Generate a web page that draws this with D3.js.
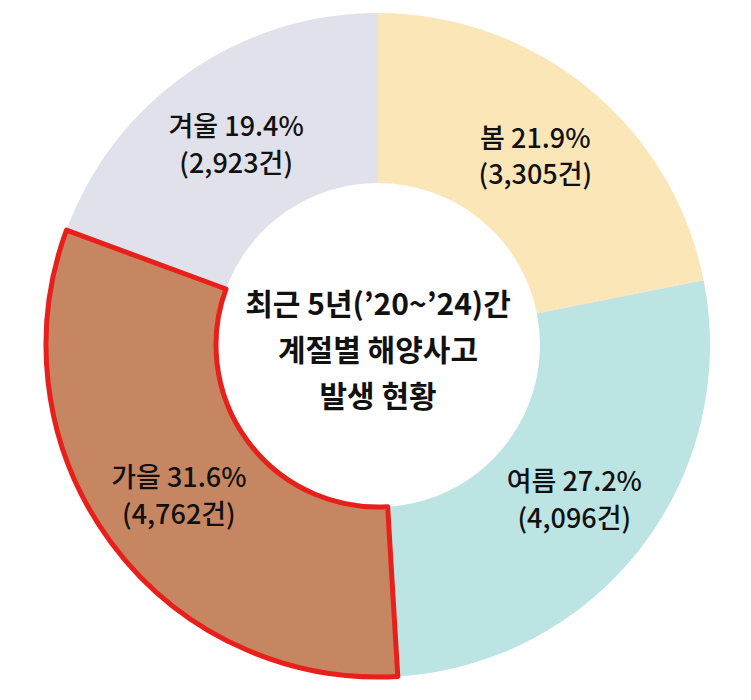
<!DOCTYPE html>
<html><head><meta charset="utf-8">
<script src="https://cdn.jsdelivr.net/npm/d3@7"></script>
<style>body{margin:0;background:#fff}text{font-family:"Noto Sans CJK KR","Noto Sans",sans-serif}</style>
</head><body>
<svg id="c" width="751" height="700"></svg>
<script>
// season share of marine accidents, clockwise from 12 o'clock
const seasons = ['봄', '여름', '가을', '겨울'];
const shares = [21.9, 27.2, 31.6, 19.4];
const counts = ['3,305', '4,096', '4,762', '2,923'];
const colors = ['#fbe6b8', '#bce4e3', '#c78662', '#e0e1eb'];
const centerLines = ['최근 5년(’20~’24)간', '계절별 해양사고', '발생 현황'];

const svg = d3.select('#c');
const cx = 378, cy = 345, outerR = 332, innerR = 162;
const g = svg.append('g').attr('transform', `translate(${cx},${cy})`);

const pie = d3.pie().sort(null).value((d) => d.v);
const arc = d3.arc().innerRadius(innerR).outerRadius(outerR);
const labelArc = d3.arc().innerRadius(248).outerRadius(248);
const data = pie(seasons.map((s, i) => ({ s, v: shares[i], n: counts[i], c: colors[i], i })));

g.selectAll('path').data(data).enter().append('path')
    .attr('d', arc)
    .attr('fill', (d) => d.data.c)
    .attr('stroke', (d) => (d.data.i === 2 ? '#e8201c' : 'none'))
    .attr('stroke-width', 5)
    .attr('stroke-linejoin', 'round');
// keep the highlighted slice on top
g.selectAll('path').filter((d) => d.data.i === 2).raise();

const labels = g.selectAll('.lab').data(data).enter().append('text')
    .attr('class', 'lab')
    .attr('transform', (d) => `translate(${labelArc.centroid(d)})`)
    .attr('text-anchor', 'middle')
    .attr('font-size', 27)
    .attr('font-weight', 500)
    .attr('fill', '#111');
labels.append('tspan').attr('x', 0).attr('dy', '-0.2em').text((d) => `${d.data.s} ${d.data.v}%`);
labels.append('tspan').attr('x', 0).attr('dy', '1.35em').text((d) => `(${d.data.n}건)`);

g.append('text').attr('text-anchor', 'middle').attr('font-size', 30).attr('font-weight', 700).attr('fill', '#111')
    .selectAll('tspan').data(centerLines).enter().append('tspan')
    .attr('x', 0).attr('y', (d, i) => -30 + i * 46).text((d) => d);
</script>
</body></html>
